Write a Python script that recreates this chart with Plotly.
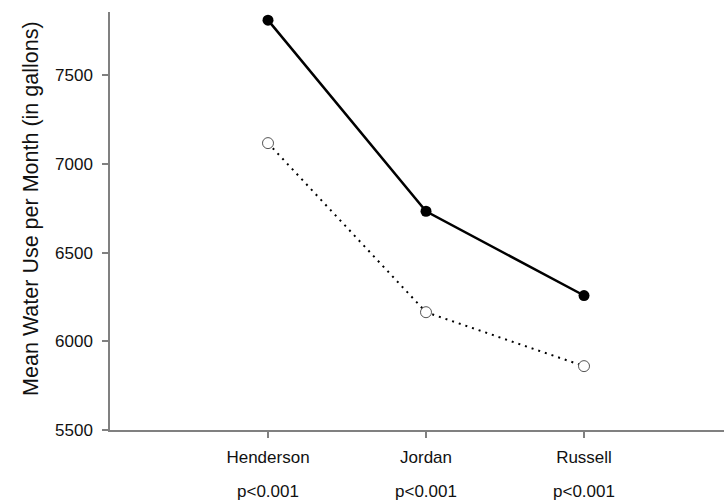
import plotly.graph_objects as go

categories = ["Henderson", "Jordan", "Russell"]
p_values = ["p&lt;0.001", "p&lt;0.001", "p&lt;0.001"]
series_a = [7810, 6733, 6258]   # filled circles, solid line
series_b = [7117, 6164, 5860]   # open circles, dotted line
y_ticks = [5500, 6000, 6500, 7000, 7500]
y_title = "Mean Water Use per Month (in gallons)"

xpos = [1, 2, 3]
FONT = "Arial, Liberation Sans, sans-serif"

fig = go.Figure()
fig.add_trace(go.Scatter(
    x=xpos, y=series_b, mode="lines+markers",
    line=dict(color="black", width=2, dash="2px,5px"),
    marker=dict(symbol="circle", size=11, color="white",
                line=dict(color="#555555", width=1)),
    showlegend=False))
fig.add_trace(go.Scatter(
    x=xpos, y=series_a, mode="lines+markers",
    line=dict(color="black", width=2.5),
    marker=dict(symbol="circle", size=11, color="black"),
    showlegend=False))

for x, p in zip(xpos, p_values):
    fig.add_annotation(x=x, y=0, xref="x", yref="paper", yshift=-61,
                       yanchor="middle", xanchor="center",
                       text=p, showarrow=False,
                       font=dict(family=FONT, size=17, color="#111111"))

fig.add_annotation(x=0, y=0.529, xref="paper", yref="paper", xshift=-79,
                   xanchor="center", yanchor="middle", textangle=-90,
                   text=y_title, showarrow=False,
                   font=dict(family=FONT, size=21.5, color="#111111"))

fig.update_layout(
    width=724, height=502,
    margin=dict(l=110, r=0, t=12, b=72),
    paper_bgcolor="white", plot_bgcolor="white",
    font=dict(family=FONT, size=17, color="#111111"),
)
fig.update_xaxes(
    range=[0, 3.886], tickmode="array", tickvals=xpos, ticktext=categories,
    showline=True, linecolor="#808080", linewidth=1.5,
    ticks="outside", ticklen=6, tickcolor="#808080", tickwidth=1.5,
    ticklabelstandoff=5,
    showgrid=False, zeroline=False, tickfont=dict(size=17), automargin=False)
fig.update_yaxes(
    range=[5500, 7856], tickmode="array", tickvals=y_ticks,
    showline=True, linecolor="#808080", linewidth=1.5,
    ticks="outside", ticklen=6, tickcolor="#808080", tickwidth=1.5,
    ticklabelstandoff=6,
    showgrid=False, zeroline=False, tickfont=dict(size=17), automargin=False)

# remove the default 8px page margin so the figure fills the window exactly
fig.write_html("out.html",
               config={"displayModeBar": False},
               post_script="document.body.style.margin='0';document.body.style.overflow='hidden';")
